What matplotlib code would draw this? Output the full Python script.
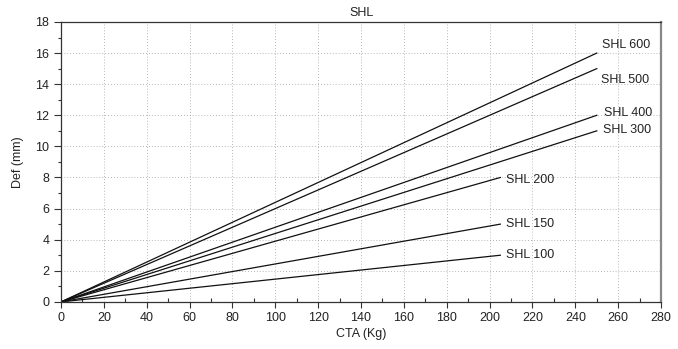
import matplotlib
matplotlib.use("Agg")
import matplotlib.pyplot as plt
from matplotlib.ticker import MultipleLocator

plt.rcParams['font.family'] = ['Liberation Sans', 'DejaVu Sans']
plt.rcParams['font.size'] = 9

# 数据: 每条线从原点到终点
series_names = ["SHL 600", "SHL 500", "SHL 400", "SHL 300", "SHL 200", "SHL 150", "SHL 100"]
end_load = [250, 250, 250, 250, 205, 205, 205]   # CTA (Kg)
end_def = [16, 15, 12, 11, 8, 5, 3]              # Def (mm)

# 标签相对终点的偏移 (x, y)
label_dx = [2.5, 2, 3.5, 3, 2.5, 2.5, 2.5]
label_dy = [0.5, -0.7, 0.15, 0.05, -0.15, 0.0, 0.0]

fig = plt.figure(figsize=(6.78, 3.49), dpi=100)
ax = fig.add_axes([0.09, 0.135, 0.885, 0.802])

for name, xe, ye, dx, dy in zip(series_names, end_load, end_def, label_dx, label_dy):
    ax.plot([0, xe], [0, ye], color='#111111', lw=0.9)
    ax.text(xe + dx, ye + dy, name, fontsize=9, color='#222222', va='center', ha='left')

ax.set_xlim(0, 280)
ax.set_ylim(0, 18)
ax.xaxis.set_major_locator(MultipleLocator(20))
ax.xaxis.set_minor_locator(MultipleLocator(10))
ax.yaxis.set_major_locator(MultipleLocator(2))
ax.yaxis.set_minor_locator(MultipleLocator(1))

ax.tick_params(axis='x', which='major', direction='out', length=4, width=0.8, color='#333333', labelcolor='#222222')
ax.tick_params(axis='x', which='minor', direction='in', length=3, width=0.8, color='#333333')
ax.tick_params(axis='y', which='major', direction='out', length=5, width=0.8, color='#333333', labelcolor='#222222')
ax.tick_params(axis='y', which='minor', direction='out', length=2.5, width=0.8, color='#333333')

ax.grid(True, which='major', linestyle=(0, (1, 2.5)), color='#a0a0a0', lw=0.6)

for side in ['left', 'bottom', 'top']:
    ax.spines[side].set_color('#333333')
    ax.spines[side].set_linewidth(0.9)
ax.spines['right'].set_color('#888888')
ax.spines['right'].set_linewidth(1.6)

ax.set_title("SHL", fontsize=9, color='#222222', pad=4)
ax.set_xlabel("CTA (Kg)", fontsize=9, color='#222222', labelpad=3)
ax.set_ylabel("Def (mm)", fontsize=9, color='#222222', labelpad=8)

plt.savefig("out.png", dpi=100)
plt.close()
